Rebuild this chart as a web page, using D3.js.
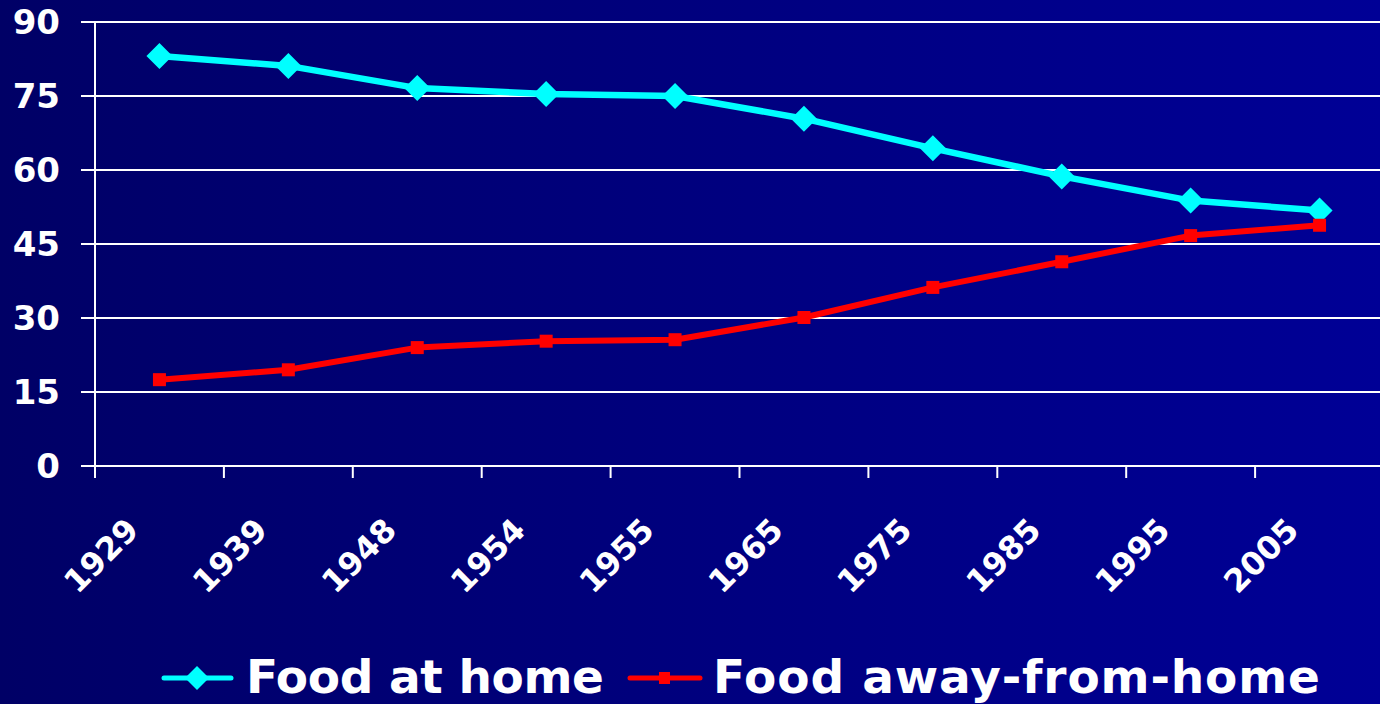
<!DOCTYPE html>
<meta charset="utf-8">
<style>
  body { margin: 0; background: #000066; }
  svg { display: block; }
  .lbl { font-family: "DejaVu Sans", Verdana, sans-serif; font-weight: bold; fill: #fff; }
</style>
<body>
<script src="https://d3js.org/d3.v7.min.js"></script>
<script>

var years = ["1929", "1939", "1948", "1954", "1955", "1965", "1975", "1985", "1995", "2005"];
var atHome = [83.1, 81.1, 76.6, 75.4, 75.0, 70.4, 64.4, 58.7, 53.8, 51.8];
var awayFromHome = [17.5, 19.5, 24.0, 25.3, 25.6, 30.1, 36.2, 41.4, 46.7, 48.8];
var yTicks = [0, 15, 30, 45, 60, 75, 90];
var seriesNames = ["Food at home", "Food away-from-home"];

var width = 1380
var height = 704

var svg = d3.select("body")
	.append("svg")
	.attr("width", width)
	.attr("height", height);

// background gradient, dark navy on the left to brighter blue on the right
var grad = svg.append("defs").append("linearGradient")
	.attr("id", "bg")
	.attr("x1", "0%").attr("x2", "100%")
	.attr("y1", "0%").attr("y2", "0%");
grad.append("stop").attr("offset", "0%").attr("stop-color", "#000066");
grad.append("stop").attr("offset", "100%").attr("stop-color", "#000096");

svg.append("rect")
	.attr("width", width)
	.attr("height", height)
	.attr("fill", "url(#bg)");

var x = d3.scaleBand().domain(years).range([95, 1384]);
var y = d3.scaleLinear().domain([0, 90]).range([466, 22]);

// gridlines + y ticks (continuous from tick start to the right edge)
svg.selectAll(".grid")
	.data(yTicks)
	.enter()
	.append("line")
	  .attr("x1", 81)
	  .attr("x2", width)
	  .attr("y1", function (d) { return y(d); })
	  .attr("y2", function (d) { return y(d); })
	  .attr("stroke", "#fff")
	  .attr("stroke-width", 2);

svg.selectAll(".ylab")
	.data(yTicks)
	.enter()
	.append("text")
	  .attr("class", "lbl")
	  .attr("x", 60)
	  .attr("y", function (d) { return y(d); })
	  .attr("dy", "0.36em")
	  .attr("text-anchor", "end")
	  .style("font-size", "34px")
	  .text(function (d) { return d; });

// y axis line
svg.append("line")
	.attr("x1", 95).attr("x2", 95)
	.attr("y1", y(90)).attr("y2", y(0) + 12)
	.attr("stroke", "#fff")
	.attr("stroke-width", 2);

// x ticks at band edges
svg.selectAll(".xtick")
	.data(years)
	.enter()
	.append("line")
	  .attr("x1", function (d) { return x(d); })
	  .attr("x2", function (d) { return x(d); })
	  .attr("y1", y(0))
	  .attr("y2", y(0) + 12)
	  .attr("stroke", "#fff")
	  .attr("stroke-width", 2);

svg.selectAll(".xlab")
	.data(years)
	.enter()
	.append("text")
	  .attr("class", "lbl")
	  .attr("text-anchor", "end")
	  .style("font-size", "32px")
	  .attr("transform", function (d) {
	  	var cx = x(d) + x.bandwidth() / 2 - 19;
	  	return "translate(" + cx + ",532) rotate(-45)";
	  })
	  .text(function (d) { return d; });

var line = d3.line()
	.x(function (d, i) { return x(years[i]) + x.bandwidth() / 2; })
	.y(function (d) { return y(d); });

// Food at home
svg.append("path")
	.datum(atHome)
	.attr("d", line)
	.attr("fill", "none")
	.attr("stroke", "#00ffff")
	.attr("stroke-width", 6.5)
	.attr("stroke-linejoin", "round");

svg.selectAll(".dia")
	.data(atHome)
	.enter()
	.append("path")
	  .attr("d", "M0,-13L13,0L0,13L-13,0Z")
	  .attr("fill", "#00ffff")
	  .attr("transform", function (d, i) {
	  	return "translate(" + (x(years[i]) + x.bandwidth() / 2) + "," + y(d) + ")";
	  });

// Food away-from-home
svg.append("path")
	.datum(awayFromHome)
	.attr("d", line)
	.attr("fill", "none")
	.attr("stroke", "#ff0000")
	.attr("stroke-width", 6)
	.attr("stroke-linejoin", "round");

svg.selectAll(".sq")
	.data(awayFromHome)
	.enter()
	.append("rect")
	  .attr("x", function (d, i) { return x(years[i]) + x.bandwidth() / 2 - 6.5; })
	  .attr("y", function (d) { return y(d) - 6.5; })
	  .attr("width", 13)
	  .attr("height", 13)
	  .attr("fill", "#ff0000");

// Legend
var lg = svg.append("g");
lg.append("line")
	.attr("x1", 164).attr("x2", 231).attr("y1", 678).attr("y2", 678)
	.attr("stroke", "#00ffff").attr("stroke-width", 5).attr("stroke-linecap", "round");
lg.append("path")
	.attr("d", "M0,-12L12,0L0,12L-12,0Z")
	.attr("fill", "#00ffff")
	.attr("transform", "translate(197,678)");
lg.append("text")
	.attr("class", "lbl")
	.attr("x", 246).attr("y", 693)
	.attr("textLength", 358)
	.attr("lengthAdjust", "spacing")
	.style("font-size", "47px")
	.text(seriesNames[0]);

lg.append("line")
	.attr("x1", 630).attr("x2", 700).attr("y1", 678).attr("y2", 678)
	.attr("stroke", "#ff0000").attr("stroke-width", 5).attr("stroke-linecap", "round");
lg.append("rect")
	.attr("x", 659).attr("y", 672).attr("width", 11).attr("height", 12)
	.attr("fill", "#ff0000");
lg.append("text")
	.attr("class", "lbl")
	.attr("x", 713).attr("y", 693)
	.attr("textLength", 607)
	.attr("lengthAdjust", "spacing")
	.style("font-size", "47px")
	.text(seriesNames[1]);

</script>
</body>
